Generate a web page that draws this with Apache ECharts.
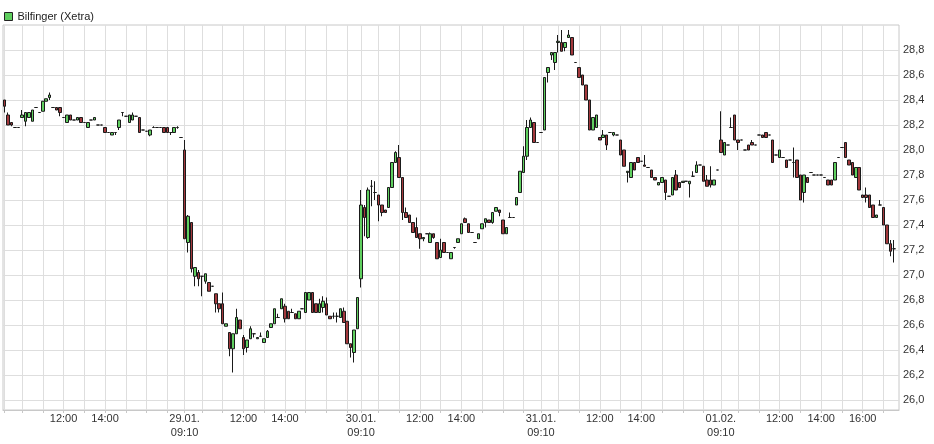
<!DOCTYPE html>
<html><head><meta charset="utf-8">
<script src="https://cdn.jsdelivr.net/npm/echarts@6/dist/echarts.min.js"></script>
<style>html,body{margin:0;padding:0;background:#fff}#c{width:934px;height:444px}</style>
</head><body><div id="c"></div>
<script>
const seriesName = 'Bilfinger (Xetra)';
const dayDates = ['28.01.', '29.01.', '30.01.', '31.01.', '01.02.'];
const slotTimes = ['09:10','09:20','09:30','09:40','09:50','10:00','10:10','10:20','10:30','10:40','10:50','11:00','11:10','11:20','11:30','11:40','11:50','12:00','12:10','12:20','12:30','12:40','12:50','13:00','13:10','13:20','13:30','13:40','13:50','14:00','14:10','14:20','14:30','14:40','14:50','15:00','15:10','15:20','15:30','15:40','15:50','16:00','16:10','16:20','16:30','16:40','16:50','17:00','17:10','17:20','17:30','17:40'];
const daySlotCounts = [52, 51, 52, 52, 52];
const gridTimes = ['09:10','10:00','11:00','12:00','13:00','14:00','15:00','16:00','17:00'];
const labelKeys = ['28.01. 12:00','28.01. 14:00','29.01. 09:10','29.01. 12:00','29.01. 14:00','30.01. 09:10','30.01. 12:00','30.01. 14:00','31.01. 09:10','31.01. 12:00','31.01. 14:00','01.02. 09:10','01.02. 12:00','01.02. 14:00','01.02. 16:00'];
const yTicks = [26.0, 26.2, 26.4, 26.6, 26.8, 27.0, 27.2, 27.4, 27.6, 27.8, 28.0, 28.2, 28.4, 28.6, 28.8];

// [open, close, low, high]
const day1 = [
[28.40,28.35,28.30,28.40],[28.28,28.20,28.20,28.30],[28.22,28.20,28.19,28.22],[28.18,28.18,28.18,28.18],
[28.18,28.18,28.18,28.18],[28.26,28.28,28.26,28.32],[28.23,28.30,28.19,28.30],[28.26,28.30,28.26,28.30],
[28.23,28.32,28.23,28.32],[28.34,28.34,28.34,28.34],[28.30,28.30,28.30,28.30],[28.31,28.39,28.31,28.39],
[28.39,28.41,28.39,28.41],[28.42,28.44,28.40,28.46],[28.34,28.34,28.34,28.34],[28.34,28.32,28.32,28.34],
[28.34,28.30,28.27,28.34],[28.26,28.26,28.26,28.26],[28.22,28.28,28.22,28.28],[28.28,28.24,28.24,28.28],
[28.24,28.24,28.24,28.24],[28.24,28.26,28.24,28.26],[28.26,28.22,28.22,28.26],[28.22,28.22,28.22,28.22],
[28.18,28.22,28.18,28.22],[28.24,28.24,28.24,28.24],[28.24,28.26,28.24,28.26],[28.20,28.20,28.20,28.20],
[28.20,28.20,28.20,28.20],[28.18,28.14,28.14,28.18],[28.14,28.14,28.14,28.14],[28.12,28.14,28.12,28.14],
[28.14,28.14,28.12,28.14],[28.18,28.24,28.16,28.24],[28.30,28.30,28.27,28.30],[28.27,28.27,28.27,28.27],
[28.22,28.28,28.22,28.28],[28.24,28.28,28.24,28.30],[28.27,28.27,28.27,28.27],[28.26,28.14,28.14,28.26],
[28.16,28.16,28.16,28.16],[28.15,28.15,28.15,28.15],[28.12,28.16,28.11,28.16],[28.18,28.18,28.18,28.19],
[28.18,28.18,28.18,28.18],[28.18,28.18,28.18,28.18],[28.18,28.14,28.14,28.18],[28.18,28.14,28.14,28.18],
[28.14,28.14,28.12,28.14],[28.14,28.18,28.14,28.18],[28.18,28.18,28.17,28.19],[28.10,28.10,28.10,28.10]
];
const day2 = [
[28.00,27.29,27.29,28.08],[27.26,27.47,27.18,27.48],[27.42,27.05,27.02,27.42],[26.99,27.06,26.91,27.06],
[27.02,26.97,26.91,27.04],[26.99,26.99,26.83,26.99],[26.95,27.01,26.93,27.01],[26.94,26.87,26.87,26.94],
[26.91,26.91,26.91,26.91],[26.85,26.77,26.70,26.85],[26.77,26.73,26.70,26.77],[26.77,26.61,26.61,26.86],
[26.59,26.61,26.59,26.61],[26.54,26.41,26.35,26.54],[26.41,26.53,26.22,26.53],[26.53,26.66,26.53,26.73],
[26.64,26.57,26.57,26.64],[26.50,26.41,26.36,26.52],[26.42,26.48,26.38,26.48],[26.49,26.57,26.49,26.59],
[26.53,26.53,26.50,26.53],[26.49,26.50,26.49,26.50],[26.51,26.51,26.51,26.54],[26.46,26.49,26.46,26.49],
[26.50,26.55,26.50,26.56],[26.58,26.61,26.58,26.61],[26.61,26.73,26.61,26.73],[26.66,26.66,26.66,26.69],
[26.73,26.81,26.73,26.81],[26.75,26.65,26.62,26.77],[26.71,26.65,26.65,26.71],[26.70,26.70,26.70,26.73],
[26.69,26.65,26.65,26.69],[26.65,26.71,26.65,26.71],[26.73,26.73,26.73,26.73],[26.70,26.86,26.70,26.86],
[26.80,26.86,26.80,26.86],[26.86,26.70,26.70,26.86],[26.77,26.70,26.70,26.77],[26.70,26.77,26.70,26.81],
[26.74,26.79,26.70,26.83],[26.77,26.68,26.68,26.82],[26.67,26.65,26.65,26.67],[26.67,26.67,26.65,26.70],
[26.67,26.67,26.62,26.70],[26.66,26.73,26.66,26.73],[26.71,26.62,26.62,26.74],[26.63,26.45,26.45,26.63],
[26.45,26.42,26.34,26.45],[26.38,26.56,26.30,26.56],[26.57,26.82,26.57,26.82]
];
const day3 = [
[26.97,27.56,26.90,27.68],[27.54,27.46,27.31,27.56],[27.30,27.68,27.29,27.70],[27.71,27.71,27.55,27.76],
[27.66,27.66,27.60,27.75],[27.64,27.56,27.43,27.64],[27.56,27.50,27.47,27.56],[27.52,27.50,27.50,27.52],
[27.54,27.70,27.54,27.70],[27.70,27.90,27.70,27.90],[27.90,27.98,27.90,27.99],[27.94,27.78,27.78,28.04],
[27.78,27.50,27.44,27.78],[27.50,27.46,27.46,27.54],[27.48,27.42,27.42,27.48],[27.42,27.34,27.34,27.42],
[27.38,27.30,27.30,27.46],[27.33,27.29,27.21,27.33],[27.29,27.30,27.27,27.30],[27.33,27.33,27.33,27.33],
[27.26,27.33,27.26,27.34],[27.33,27.30,27.29,27.33],[27.26,27.13,27.13,27.26],[27.14,27.20,27.14,27.29],
[27.26,27.18,27.18,27.26],[27.18,27.18,27.18,27.18],[27.13,27.18,27.13,27.18],[27.22,27.22,27.21,27.22],
[27.26,27.29,27.26,27.29],[27.33,27.41,27.33,27.41],[27.45,27.42,27.42,27.46],[27.41,27.34,27.34,27.41],
[27.34,27.34,27.34,27.34],[27.26,27.26,27.26,27.26],[27.29,27.33,27.29,27.33],[27.37,27.41,27.37,27.41],
[27.42,27.45,27.38,27.45],[27.44,27.42,27.42,27.44],[27.42,27.50,27.41,27.50],[27.51,27.54,27.51,27.54],
[27.52,27.50,27.47,27.52],[27.44,27.33,27.33,27.44],[27.33,27.38,27.33,27.38],[27.46,27.46,27.46,27.50],
[27.46,27.46,27.46,27.46],[27.56,27.62,27.56,27.62],[27.66,27.83,27.66,27.83],[27.82,27.95,27.82,28.03],
[27.95,28.18,27.92,28.24],[28.18,28.24,28.18,28.26],[28.22,28.06,28.06,28.22],[28.06,28.06,28.06,28.06]
];
const day4 = [
[28.14,28.14,28.14,28.14],[28.16,28.58,28.16,28.58],[28.62,28.66,28.54,28.66],[28.76,28.78,28.72,28.78],
[28.70,28.78,28.64,28.78],[28.86,28.87,28.78,28.92],[28.86,28.79,28.79,28.96],[28.82,28.86,28.79,28.86],
[28.90,28.92,28.90,28.96],[28.90,28.76,28.76,28.90],[28.70,28.70,28.70,28.70],[28.66,28.58,28.58,28.66],
[28.60,28.52,28.52,28.60],[28.52,28.40,28.40,28.52],[28.40,28.16,28.16,28.40],[28.16,28.26,28.16,28.26],
[28.18,28.28,28.18,28.28],[28.10,28.08,28.08,28.10],[28.10,28.12,28.10,28.16],[28.12,28.04,28.00,28.12],
[28.14,28.14,28.14,28.14],[28.12,28.14,28.11,28.14],[28.12,28.12,28.12,28.12],[28.08,27.96,27.96,28.08],
[28.00,27.87,27.87,28.00],[27.82,27.83,27.74,27.83],[27.78,27.90,27.78,27.90],[27.90,27.84,27.84,27.90],
[27.94,27.90,27.90,27.94],[27.91,27.91,27.91,27.91],[27.88,27.87,27.87,27.96],[27.86,27.86,27.86,27.86],
[27.84,27.78,27.78,27.84],[27.78,27.76,27.76,27.78],[27.72,27.74,27.72,27.74],[27.74,27.78,27.74,27.78],
[27.76,27.66,27.60,27.76],[27.63,27.63,27.63,27.63],[27.64,27.78,27.64,27.78],[27.80,27.68,27.68,27.84],
[27.74,27.70,27.70,27.74],[27.74,27.75,27.74,27.75],[27.75,27.75,27.75,27.75],[27.73,27.75,27.62,27.75],
[27.79,27.79,27.79,27.83],[27.82,27.88,27.82,27.91],[27.88,27.88,27.88,27.88],[27.87,27.75,27.75,27.87],
[27.76,27.71,27.71,27.80],[27.76,27.72,27.70,27.87],[27.72,27.76,27.72,27.76],[27.84,27.84,27.84,27.84]
];
const day5 = [
[28.08,27.98,27.98,28.31],[27.96,28.06,27.96,28.06],[28.04,28.04,28.04,28.04],[28.18,28.18,28.18,28.26],
[28.28,28.08,28.08,28.28],[28.08,28.06,28.00,28.08],[28.08,28.08,28.08,28.08],[28.00,28.00,28.00,28.00],
[28.04,28.00,28.00,28.04],[28.06,28.04,28.04,28.08],[28.04,28.04,28.04,28.04],[28.12,28.12,28.12,28.12],
[28.12,28.10,28.10,28.12],[28.14,28.10,28.10,28.14],[28.12,28.12,28.12,28.12],[28.08,27.90,27.90,28.08],
[27.96,27.96,27.96,27.96],[27.94,28.00,27.94,28.00],[27.94,27.94,27.94,27.94],[27.92,27.86,27.86,27.92],
[27.92,27.92,27.92,27.92],[27.90,27.90,27.78,28.02],[27.92,27.78,27.78,27.92],[27.80,27.60,27.60,27.80],
[27.66,27.80,27.58,27.80],[27.78,27.74,27.74,27.78],[27.82,27.82,27.82,27.82],[27.80,27.80,27.80,27.80],
[27.80,27.80,27.80,27.80],[27.80,27.80,27.80,27.80],[27.78,27.78,27.78,27.78],[27.76,27.72,27.72,27.76],
[27.76,27.72,27.72,27.76],[27.76,27.90,27.76,27.90],[27.94,27.94,27.94,27.94],[28.02,28.02,28.02,28.02],
[28.06,27.94,27.94,28.06],[27.92,27.88,27.88,27.92],[27.90,27.80,27.80,27.90],[27.78,27.86,27.78,27.86],
[27.86,27.68,27.68,27.86],[27.64,27.62,27.62,27.64],[27.64,27.62,27.58,27.70],[27.64,27.54,27.54,27.64],
[27.56,27.46,27.46,27.56],[27.46,27.48,27.46,27.48],[27.56,27.56,27.56,27.60],[27.54,27.40,27.40,27.54],
[27.40,27.25,27.25,27.40],[27.25,27.19,27.15,27.28],[27.21,27.21,27.10,27.28]
];
const days = [day1, day2, day3, day4, day5];

const categories = [];
const candles = [];
dayDates.forEach((d, di) => {
  for (let s = 0; s < daySlotCounts[di]; s++) {
    categories.push(d + ' ' + slotTimes[s]);
    const c = days[di][s];
    candles.push(c ? c : '-');
  }
});
const timeOf = k => k.split(' ')[1];
const isGridSlot = (i, v) => gridTimes.includes(timeOf(v));

const chart = echarts.init(document.getElementById('c'), null, {renderer: 'canvas'});
const FONT = 'Liberation Sans, Arial, sans-serif';
chart.setOption({
  animation: false,
  backgroundColor: '#fff',
  legend: {
    show: true, left: 4, top: 11, padding: 0, itemWidth: 8, itemHeight: 8, itemGap: 10, icon: 'rect',
    textStyle: {fontFamily: FONT, fontSize: 11, color: '#222'},
    itemStyle: {color: '#5fcf5f', borderColor: '#222', borderWidth: 1},
    data: [seriesName]
  },
  grid: {left: 3, right: 35, top: 25, bottom: 34, show: true, borderColor: '#c8c8c8', borderWidth: 1, containLabel: false},
  xAxis: {
    type: 'category', data: categories, boundaryGap: true,
    axisLine: {show: true, lineStyle: {color: '#c8c8c8'}},
    axisTick: {show: true, alignWithLabel: true, length: 3, lineStyle: {color: '#c8c8c8'}, interval: isGridSlot},
    splitLine: {show: true, alignWithLabel: true, lineStyle: {color: '#dedede'}, interval: isGridSlot},
    axisLabel: {
      interval: (i, v) => labelKeys.includes(v),
      formatter: v => { const p = v.split(' '); return p[1] === '09:10' ? p[0] + '\n' + p[1] : p[1]; },
      fontFamily: FONT, fontSize: 11, color: '#333', lineHeight: 14, margin: 2
    }
  },
  yAxis: {
    type: 'value', position: 'right', min: 25.92, max: 29.0, scale: true,
    axisLine: {show: false},
    axisTick: {show: false, customValues: yTicks},
    axisLabel: {customValues: yTicks, formatter: v => v.toFixed(1).replace('.', ','),
      fontFamily: FONT, fontSize: 11, color: '#333', margin: 4},
    splitLine: {show: true, lineStyle: {color: '#dedede'}}
  },
  series: [{
    name: seriesName, type: 'candlestick', data: candles, barWidth: 3,
    itemStyle: {color: '#5fcf5f', color0: '#a3383c', borderColor: '#1a1a1a', borderColor0: '#1a1a1a', borderWidth: 1}
  }]
});
</script></body></html>
